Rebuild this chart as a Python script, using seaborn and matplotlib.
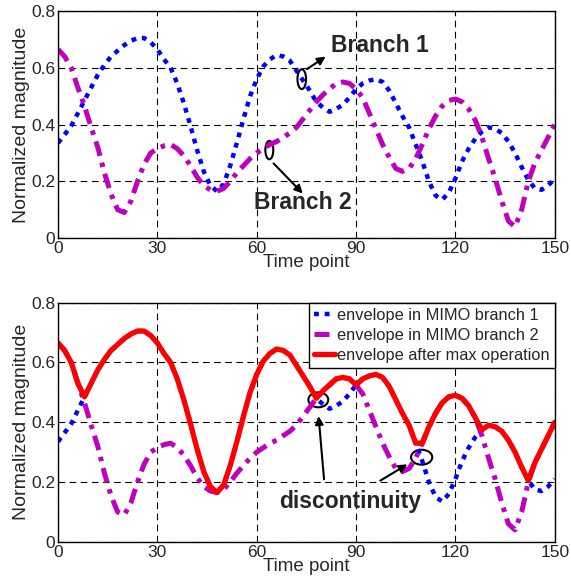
import numpy as np
import pandas as pd
import matplotlib
matplotlib.use("Agg")
import matplotlib.pyplot as plt
from matplotlib.patches import Ellipse
import seaborn as sns

# time axis and envelopes
time_pt = [0, 2, 4, 6, 8, 10, 12, 14, 16, 18, 20, 22, 24, 26, 28, 30, 32, 34, 36, 38,
           40, 42, 44, 46, 48, 50, 52, 54, 56, 58, 60, 62, 64, 66, 68, 70, 72, 74, 76, 78,
           80, 82, 84, 86, 88, 90, 92, 94, 96, 98, 100, 102, 104, 106, 108, 110, 112, 114,
           116, 118, 120, 122, 124, 126, 128, 130, 132, 134, 136, 138, 140, 142, 144, 146,
           148, 150]
branch1 = [0.335, 0.365, 0.395, 0.44, 0.485, 0.53, 0.575, 0.61, 0.64, 0.66, 0.68, 0.695,
           0.705, 0.705, 0.69, 0.665, 0.63, 0.60, 0.545, 0.475, 0.395, 0.31, 0.235, 0.185,
           0.165, 0.19, 0.255, 0.335, 0.42, 0.50, 0.56, 0.605, 0.63, 0.645, 0.64, 0.625,
           0.59, 0.555, 0.52, 0.48, 0.46, 0.445, 0.455, 0.47, 0.495, 0.525, 0.545, 0.555,
           0.56, 0.55, 0.52, 0.475, 0.43, 0.39, 0.33, 0.27, 0.20, 0.15, 0.135, 0.16, 0.21,
           0.27, 0.315, 0.35, 0.375, 0.39, 0.385, 0.37, 0.34, 0.30, 0.25, 0.205, 0.175,
           0.17, 0.185, 0.21]
branch2 = [0.665, 0.64, 0.60, 0.53, 0.465, 0.39, 0.32, 0.23, 0.155, 0.10, 0.09, 0.13,
           0.20, 0.26, 0.30, 0.315, 0.325, 0.33, 0.315, 0.29, 0.255, 0.215, 0.185, 0.17,
           0.165, 0.175, 0.20, 0.23, 0.255, 0.28, 0.30, 0.315, 0.33, 0.34, 0.355, 0.37,
           0.39, 0.42, 0.45, 0.48, 0.505, 0.525, 0.545, 0.55, 0.545, 0.525, 0.495, 0.44,
           0.385, 0.33, 0.285, 0.245, 0.235, 0.245, 0.28, 0.33, 0.385, 0.43, 0.465, 0.485,
           0.49, 0.48, 0.455, 0.415, 0.355, 0.28, 0.21, 0.13, 0.06, 0.04, 0.10, 0.20,
           0.265, 0.31, 0.355, 0.40]

df = pd.DataFrame({"t": time_pt, "b1": branch1, "b2": branch2})
df["mx"] = np.maximum(df["b1"], df["b2"])

sns.set_style("white")
plt.rcParams['font.family'] = ['Liberation Sans', 'DejaVu Sans']

blue = "#0000FF"
mag = "#BF00BF"
red = "#FF0000"
dot_style = (0, (1.1, 1.3))
dashdot_style = (0, (3.0, 1.4, 0.9, 1.4))

fig = plt.figure(figsize=(5.71, 5.82), dpi=100)
ax1 = fig.add_axes([0.1016, 0.591, 0.870, 0.390])
ax2 = fig.add_axes([0.1016, 0.069, 0.870, 0.411])


def style_axes(ax):
    ax.set_xlim(0, 150)
    ax.set_ylim(0, 0.8)
    ax.set_xticks([0, 30, 60, 90, 120, 150])
    ax.set_yticks([0, 0.2, 0.4, 0.6, 0.8])
    ax.set_yticklabels(["0", "0.2", "0.4", "0.6", "0.8"])
    ax.grid(True, color="black", linestyle=(0, (6, 4)), linewidth=0.8)
    ax.set_axisbelow(True)
    for s in ax.spines.values():
        s.set_color("black")
        s.set_linewidth(1.0)
    ax.tick_params(labelsize=12.5, length=0, pad=2)
    ax.set_xlabel("Time point", fontsize=13.5, labelpad=-1)
    ax.set_ylabel("Normalized magnitude", fontsize=14, labelpad=1)


# top panel
sns.lineplot(data=df, x="t", y="b1", ax=ax1, color=blue, lw=3.2, linestyle=dot_style)
sns.lineplot(data=df, x="t", y="b2", ax=ax1, color=mag, lw=3.6, linestyle=dashdot_style)
style_axes(ax1)

ax1.add_patch(Ellipse((73.6, 0.56), 2.6, 0.07, fill=False, lw=1.5, color="black"))
ax1.add_patch(Ellipse((63.8, 0.31), 2.4, 0.065, fill=False, lw=1.5, color="black"))
ax1.annotate("", xy=(81.5, 0.645), xytext=(74.5, 0.59),
             arrowprops=dict(arrowstyle="-|>", color="black", lw=1.5, mutation_scale=12))
ax1.annotate("", xy=(74.5, 0.15), xytext=(64.5, 0.27),
             arrowprops=dict(arrowstyle="-|>", color="black", lw=1.5, mutation_scale=12))
ax1.text(82.5, 0.68, "Branch 1", fontsize=16.5, fontweight="bold", va="center", ha="left")
ax1.text(59.3, 0.125, "Branch 2", fontsize=16.5, fontweight="bold", va="center", ha="left")

# bottom panel
sns.lineplot(data=df, x="t", y="b1", ax=ax2, color=blue, lw=3.2, linestyle=dot_style,
             label="envelope in MIMO branch 1")
sns.lineplot(data=df, x="t", y="b2", ax=ax2, color=mag, lw=3.6, linestyle=dashdot_style,
             label="envelope in MIMO branch 2")
sns.lineplot(data=df, x="t", y="mx", ax=ax2, color=red, lw=3.8,
             label="envelope after max operation")
style_axes(ax2)

ax2.add_patch(Ellipse((78.6, 0.475), 6.0, 0.05, fill=False, lw=1.5, color="black"))
ax2.add_patch(Ellipse((109.8, 0.283), 6.4, 0.05, fill=False, lw=1.5, color="black"))
ax2.annotate("", xy=(78.6, 0.43), xytext=(80.4, 0.20),
             arrowprops=dict(arrowstyle="-|>", color="black", lw=1.5, mutation_scale=12))
ax2.annotate("", xy=(106.2, 0.264), xytext=(96.6, 0.20),
             arrowprops=dict(arrowstyle="-|>", color="black", lw=1.5, mutation_scale=12))
ax2.text(88.3, 0.135, "discontinuity", fontsize=16.5, fontweight="bold", va="center", ha="center")

leg = ax2.legend(loc="upper right", fontsize=11.8, handlelength=1.3, handletextpad=0.12,
                 borderaxespad=0, borderpad=0.3, labelspacing=0.32, frameon=True,
                 fancybox=False, framealpha=1)
leg.get_frame().set_edgecolor("black")
leg.get_frame().set_linewidth(1.0)

fig.savefig("out.png", dpi=100)
